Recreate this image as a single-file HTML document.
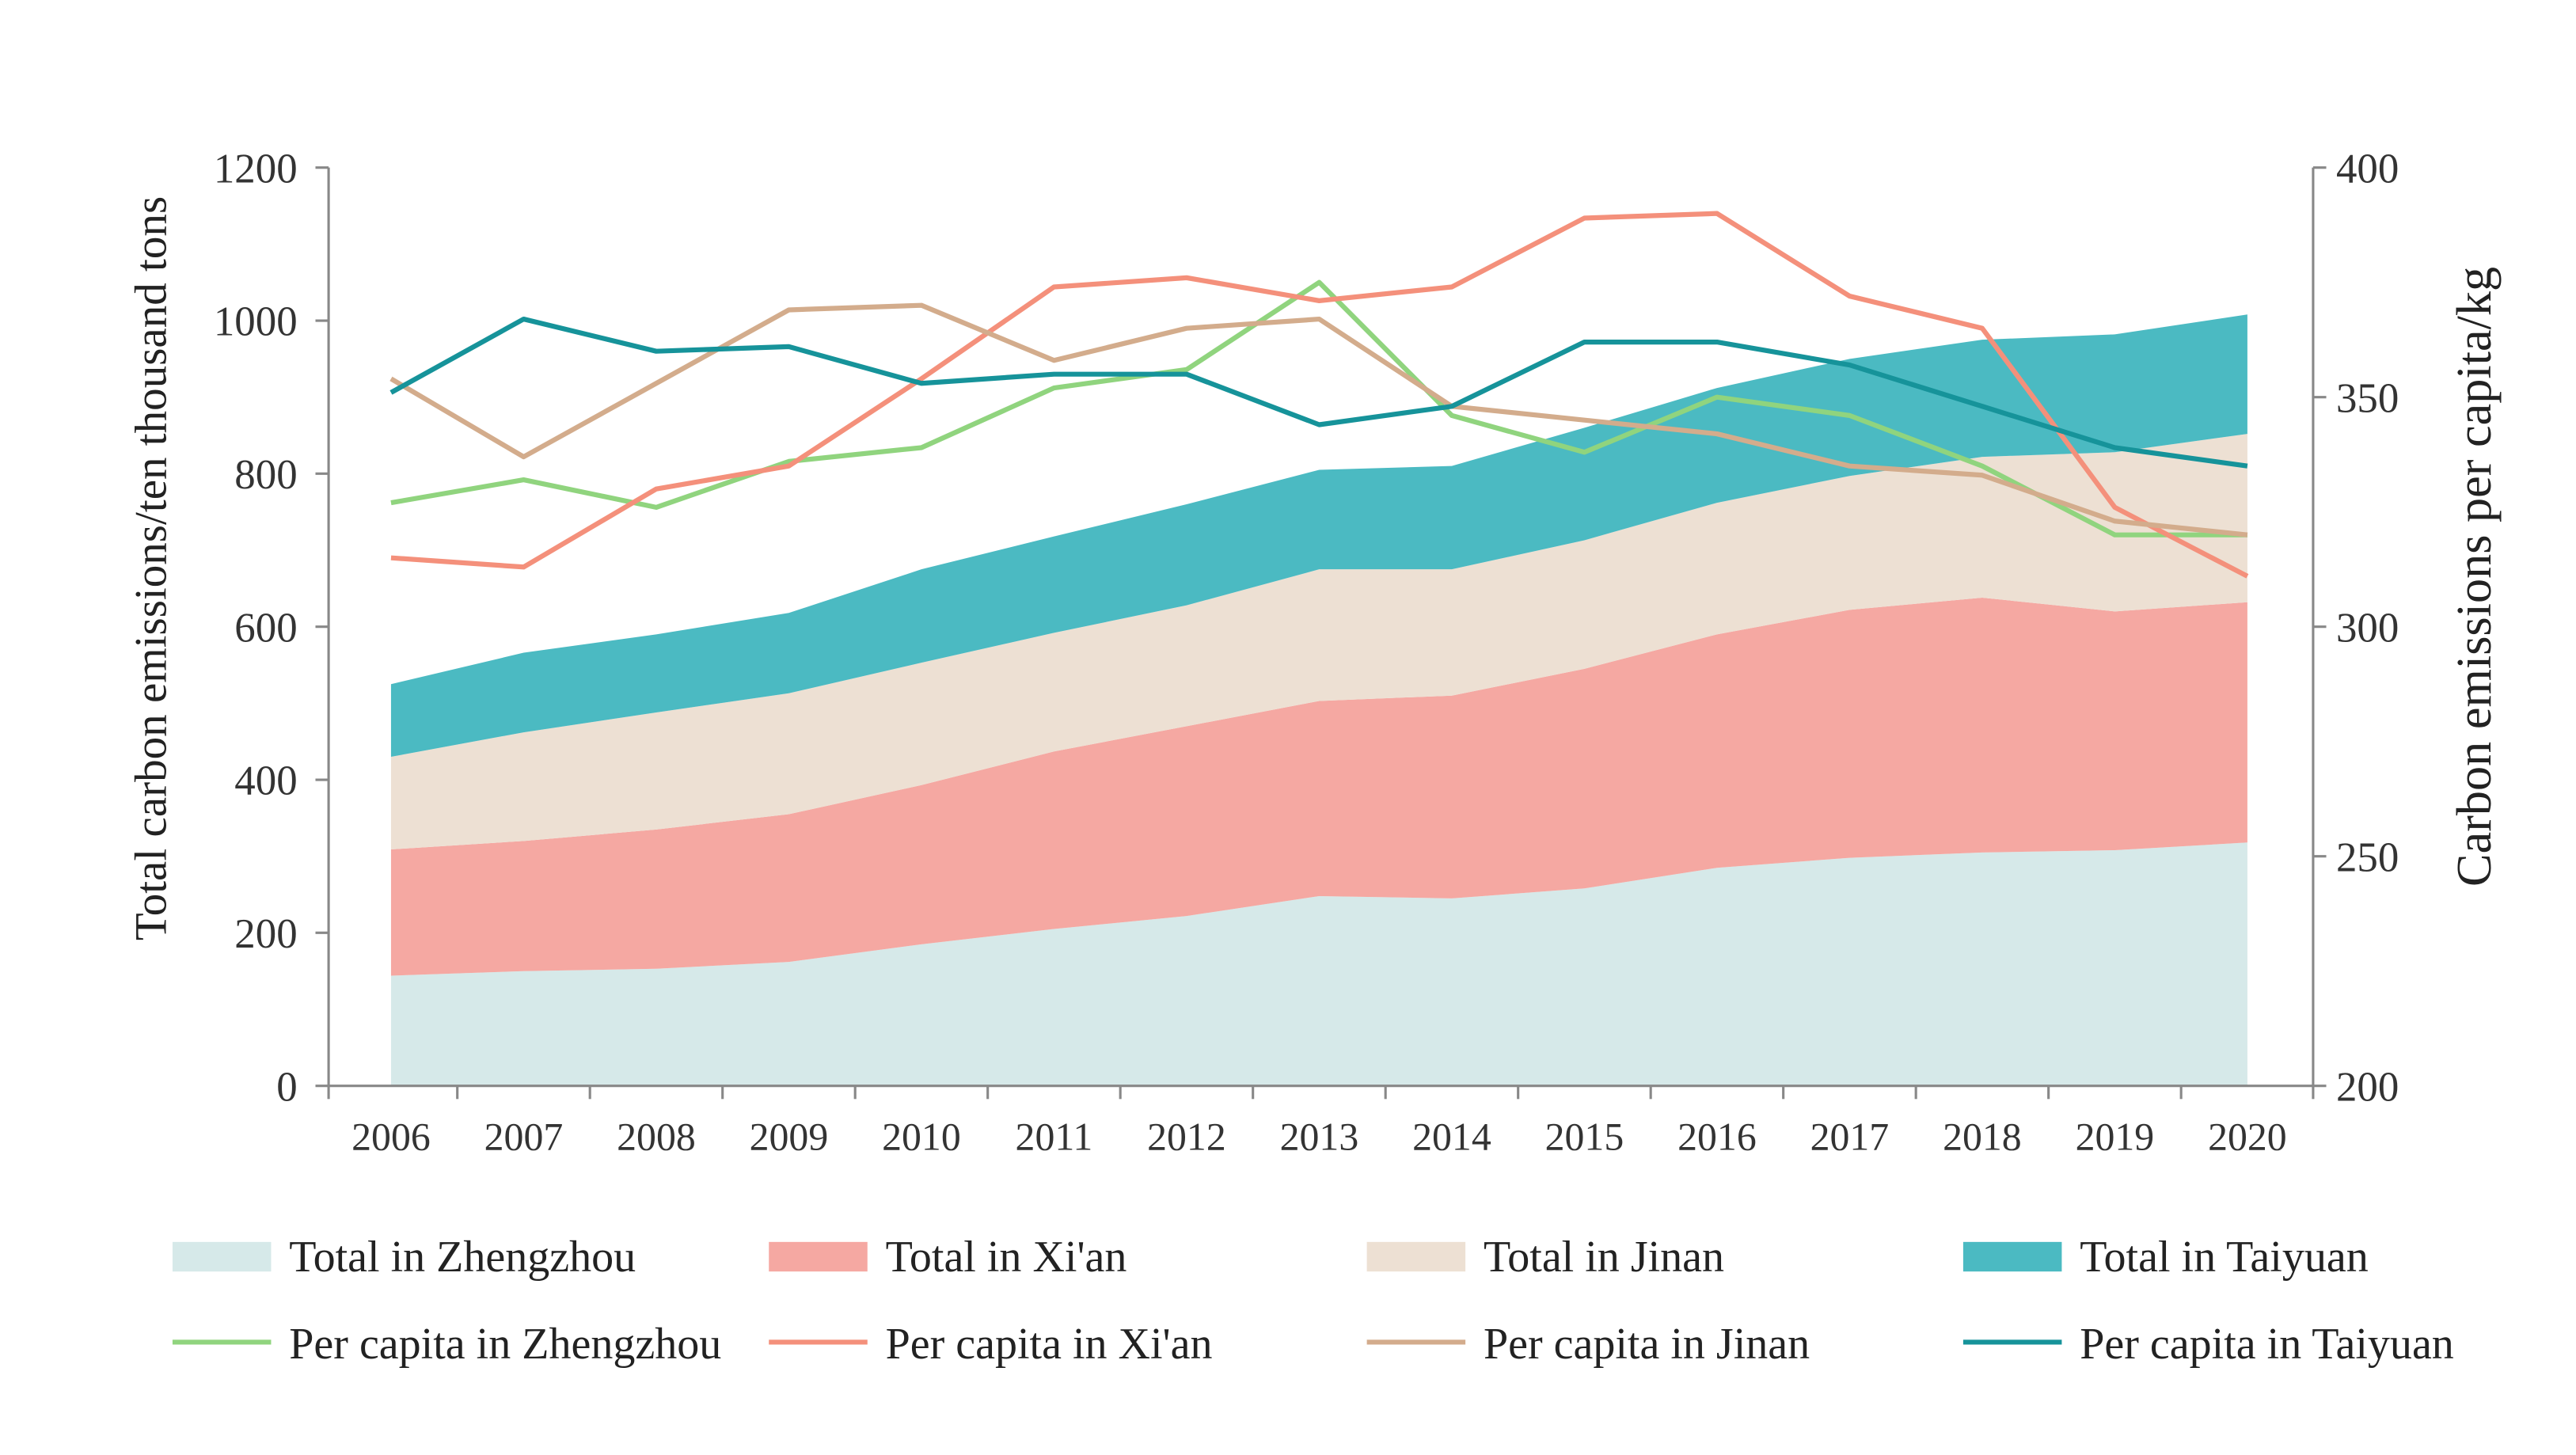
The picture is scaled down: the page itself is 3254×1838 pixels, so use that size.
<!DOCTYPE html>
<html><head><meta charset="utf-8"><style>html,body{margin:0;padding:0;background:#fff}svg{display:block}</style></head>
<body>
<svg id="chart" width="3254" height="1838" viewBox="0 0 1568 885.7" xmlns="http://www.w3.org/2000/svg" font-family="'Liberation Serif', serif"></svg>
<script>
const years = [2006,2007,2008,2009,2010,2011,2012,2013,2014,2015,2016,2017,2018,2019,2020];
const totalZhengzhou = [144,150,153,162,185,205,222,248,245,258,285,298,305,308,318];
const totalXian = [165,170,182,193,208,232,248,255,265,287,305,324,333,312,314];
const totalJinan = [121,142,153,158,160,155,158,172,165,168,172,175,184,208,220];
const totalTaiyuan = [95,104,102,105,122,126,132,130,135,147,150,153,153,154,156];
const perZhengzhou = [327,332,326,336,339,352,356,375,346,338,350,346,335,320,320];
const perXian = [315,313,330,335,354,374,376,371,374,389,390,372,365,326,311];
const perJinan = [354,337,353,369,370,358,365,367,348,345,342,335,333,323,320];
const perTaiyuan = [351,367,360,361,353,355,355,344,348,362,362,357,348,339,335];
const leftTicks = [0,200,400,600,800,1000,1200];
const rightTicks = [200,250,300,350,400];

const svg = document.getElementById('chart');
const NS = 'http://www.w3.org/2000/svg';
const X0=200, X1=1408, YT=102, YB=661;
const xs = i => 238 + i*(1368-238)/(years.length-1);
const yl = v => YB - v/1200*(YB-YT);
const yr = v => YB - (v-200)/200*(YB-YT);
function mk(tag, attrs, parent){const e=document.createElementNS(NS,tag);for(const k in attrs)e.setAttribute(k,attrs[k]);(parent||svg).appendChild(e);return e;}

const stacks=[totalZhengzhou,totalXian,totalJinan,totalTaiyuan];
const areaColors=['#d6e9e9','#f5a8a2','#ede0d3','#4bbac2'];
const areaNames=['area-zhengzhou','area-xian','area-jinan','area-taiyuan'];
let base=years.map(()=>0);
stacks.forEach((s,k)=>{
  const top=base.map((b,i)=>b+s[i]);
  let d='M'+years.map((_,i)=>xs(i)+','+yl(top[i])).join(' L');
  for(let i=years.length-1;i>=0;i--) d+=' L'+xs(i)+','+yl(base[i]);
  d+=' Z';
  const p=mk('path',{d:d,fill:areaColors[k]});
  
  
  base=top;
});

const lines=[perZhengzhou,perXian,perJinan,perTaiyuan];
const lineColors=['#90d47e','#f4907b','#d3ac8c','#16939a'];
const lineNames=['line-zhengzhou','line-xian','line-jinan','line-taiyuan'];
lines.forEach((s,k)=>{
  const p=mk('polyline',{points:s.map((v,i)=>xs(i)+','+yr(v)).join(' '),fill:'none',stroke:lineColors[k],'stroke-width':3,'stroke-linejoin':'round'});
  
  
});

const ax='#888';
let a=mk('line',{x1:X0,y1:YT,x2:X0,y2:YB,stroke:ax,'stroke-width':1.5});


a=mk('line',{x1:X1,y1:YT,x2:X1,y2:YB,stroke:ax,'stroke-width':1.5});


a=mk('line',{x1:X0,y1:YB,x2:X1,y2:YB,stroke:ax,'stroke-width':1.5});


leftTicks.forEach(v=>{
  mk('line',{x1:X0-8,y1:yl(v),x2:X0,y2:yl(v),stroke:ax,'stroke-width':1.5});
  const t=mk('text',{x:X0-19,y:yl(v)+9,'text-anchor':'end','font-size':25.5,fill:'#333'});t.textContent=v;
  
  
});
rightTicks.forEach(v=>{
  mk('line',{x1:X1,y1:yr(v),x2:X1+8,y2:yr(v),stroke:ax,'stroke-width':1.5});
  const t=mk('text',{x:X1+14,y:yr(v)+9,'font-size':25.5,fill:'#333'});t.textContent=v;
  
  
});
const step=(1368-238)/(years.length-1);
for(let i=0;i<=years.length;i++){const x=Math.min(X1,Math.max(X0,238-step/2+i*step));mk('line',{x1:x,y1:YB,x2:x,y2:YB+8,stroke:ax,'stroke-width':1.5});}
years.forEach((y,i)=>{const t=mk('text',{x:xs(i),y:YB+39,'text-anchor':'middle','font-size':24,fill:'#333'});t.textContent=y;
  
  });

let t=mk('text',{x:0,y:0,'text-anchor':'middle','font-size':27.5,fill:'#222',transform:'translate(101,346) rotate(-90)'});t.textContent='Total carbon emissions/ten thousand tons';


t=mk('text',{x:0,y:0,'text-anchor':'middle','font-size':30,fill:'#222',transform:'translate(1516,351) rotate(-90)'});t.textContent='Carbon emissions per capita/kg';



const legNames=['Zhengzhou',"Xi'an",'Jinan','Taiyuan'];
const legX=[105,468,832,1195];
legNames.forEach((n,k)=>{
  const g=mk('g',{});
  
  
  mk('rect',{x:legX[k],y:756,width:60,height:18,fill:areaColors[k]},g);
  const tx=mk('text',{x:legX[k]+71,y:774,'font-size':27,fill:'#222'},g);tx.textContent='Total in '+n;
  const g2=mk('g',{});
  
  
  mk('line',{x1:legX[k],y1:817,x2:legX[k]+60,y2:817,stroke:lineColors[k],'stroke-width':3},g2);
  const tx2=mk('text',{x:legX[k]+71,y:827,'font-size':27,fill:'#222'},g2);tx2.textContent='Per capita in '+n;
});
</script>
</body></html>
